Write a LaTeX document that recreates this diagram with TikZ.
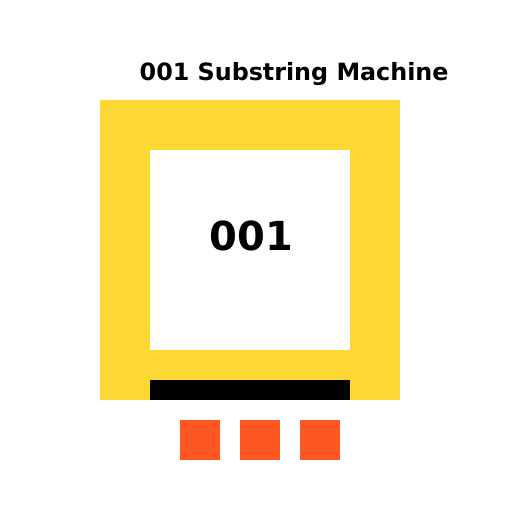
\documentclass[tikz,border=0pt]{standalone}
\usepackage{fontspec}
\setmainfont{DejaVu Sans}
\definecolor{frameyellow}{HTML}{FDD835}
\definecolor{keyorange}{HTML}{FF5722}
\tikzset{
  box/.style={draw=none},
  titletext/.style={font=\fontsize{23.8}{28}\selectfont\bfseries, inner sep=0pt, anchor=base west},
  bigtext/.style={font=\fontsize{40}{46}\selectfont\bfseries, inner sep=0pt, anchor=base},
}
\begin{document}
\begin{tikzpicture}[x=1pt,y=-1pt]
\useasboundingbox (0,0) rectangle (512,512);
\fill[white] (0,0) rectangle (512,512);
\fill[frameyellow] (100,100) rectangle (400,400);
\fill[white] (150,150) rectangle (350,350);
\fill[black] (150,380) rectangle (350,400);
\fill[keyorange] (180,420) rectangle (220,460);
\fill[keyorange] (240,420) rectangle (280,460);
\fill[keyorange] (300,420) rectangle (340,460);
\node[titletext] (title) at (139.5,80) {001 Substring Machine};
\node[bigtext] (state) at (251.5,250) {001};
\end{tikzpicture}
\end{document}
